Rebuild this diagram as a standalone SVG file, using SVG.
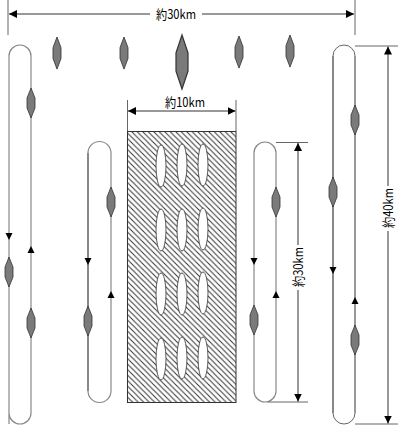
<svg xmlns="http://www.w3.org/2000/svg" width="400" height="431" viewBox="0 0 400 431">
<style>
.dim{stroke:#333;stroke-width:1;fill:none}
.tick{stroke:#666;stroke-width:1;fill:none}
.g{stroke:#888;stroke-width:1.2;fill:none}
.k{stroke:#111;stroke-width:1;fill:none}
.ship{fill:#7a7a7a;stroke:#333;stroke-width:0.8}
.lbl{font-family:"Noto Sans CJK JP","DejaVu Sans",sans-serif;font-size:13px;fill:#000}
.ell{fill:#fff;stroke:#333;stroke-width:0.8}
.arr{fill:#000}
</style>
<defs>
<marker id="ah" viewBox="0 0 10 10" refX="10" refY="5" markerWidth="8" markerHeight="8" markerUnits="userSpaceOnUse" orient="auto">
<path d="M0,0 L10,5 L0,10 Z" fill="#000"/>
</marker>
<pattern id="hatch" patternUnits="userSpaceOnUse" width="5.5" height="5.5">
<path d="M-1,-1 L6.5,6.5 M-1,4.5 L1,6.5 M4.5,-1 L6.5,1" stroke="#333" stroke-width="1"/>
</pattern>
<path id="ship" d="M0,0 L4,10 L4,20 L0,30 L-4,20 L-4,10 Z"/>
<path id="dn" d="M-3.5,0 L3.5,0 L0,7 Z"/>
<path id="up" d="M-3.5,7 L3.5,7 L0,0 Z"/>
</defs>

<g id="dim-top">
<line class="tick" x1="8" y1="0" x2="8" y2="35"/>
<line class="tick" x1="355" y1="0" x2="355" y2="35"/>
<line class="dim" x1="150" y1="14" x2="9" y2="14" marker-end="url(#ah)"/>
<line class="dim" x1="202" y1="14" x2="354" y2="14" marker-end="url(#ah)"/>
<text class="lbl" x="176" y="19" text-anchor="middle" textLength="40" lengthAdjust="spacingAndGlyphs">約30km</text>
</g>

<g id="top-ships">
<use href="#ship" class="ship" transform="translate(57,37) scale(1,1.07)"/>
<use href="#ship" class="ship" transform="translate(124,37) scale(1,1.07)"/>
<use href="#ship" class="ship" transform="translate(182,35) scale(1.5,1.8)"/>
<use href="#ship" class="ship" transform="translate(239,36) scale(1,1.07)"/>
<use href="#ship" class="ship" transform="translate(290,35) scale(1,1.07)"/>
</g>

<g id="loop-left">
<path class="g" d="M9,424 L9,56 A11,11 0 0 1 31,56 L31,413 A11,11 0 0 1 9,413"/>
<use href="#dn" class="arr" x="9" y="233"/>
<use href="#up" class="arr" x="31" y="246"/>
<use href="#ship" class="ship" x="31" y="88"/>
<use href="#ship" class="ship" x="9" y="257"/>
<use href="#ship" class="ship" x="31" y="308"/>
</g>

<g id="loop-midleft">
<path class="g" d="M88,153 A11.5,11.5 0 0 1 111,153 L111,391 A11.5,11.5 0 0 1 88,391"/>
<line class="k" x1="88" y1="153" x2="88" y2="391"/>
<use href="#dn" class="arr" x="88" y="258"/>
<use href="#up" class="arr" x="111" y="291"/>
<use href="#ship" class="ship" x="111" y="187"/>
<use href="#ship" class="ship" x="88" y="306"/>
</g>

<g id="area">
<rect x="127.5" y="131.5" width="108.5" height="271" fill="url(#hatch)" stroke="#333" stroke-width="1"/>
<ellipse class="ell" cx="161" cy="166" rx="5" ry="21"/>
<ellipse class="ell" cx="182" cy="165" rx="5" ry="21"/>
<ellipse class="ell" cx="203" cy="165" rx="5" ry="21"/>
<ellipse class="ell" cx="161" cy="230" rx="5" ry="21"/>
<ellipse class="ell" cx="182" cy="230" rx="5" ry="21"/>
<ellipse class="ell" cx="203" cy="229" rx="5" ry="21"/>
<ellipse class="ell" cx="161" cy="294" rx="5" ry="21"/>
<ellipse class="ell" cx="182" cy="294" rx="5" ry="21"/>
<ellipse class="ell" cx="203" cy="293" rx="5" ry="21"/>
<ellipse class="ell" cx="161" cy="359" rx="5" ry="21"/>
<ellipse class="ell" cx="182" cy="358" rx="5" ry="21"/>
<ellipse class="ell" cx="203" cy="358" rx="5" ry="21"/>
</g>

<g id="dim-10km">
<line class="tick" x1="127.5" y1="100" x2="127.5" y2="131"/>
<line class="tick" x1="236" y1="100" x2="236" y2="131"/>
<line class="dim" x1="182" y1="111" x2="128" y2="111" marker-end="url(#ah)"/>
<line class="dim" x1="182" y1="111" x2="235.5" y2="111" marker-end="url(#ah)"/>
<text class="lbl" x="185" y="107" text-anchor="middle" textLength="40" lengthAdjust="spacingAndGlyphs">約10km</text>
</g>

<g id="loop-midright">
<path class="g" d="M254,391 L254,153 A11,11 0 0 1 276,153 L276,391 A11,11 0 0 1 254,391"/>
<use href="#dn" class="arr" x="254" y="258"/>
<use href="#up" class="arr" x="276" y="291"/>
<use href="#ship" class="ship" x="276" y="187"/>
<use href="#ship" class="ship" x="254" y="305"/>
</g>

<g id="dim-30km">
<line class="tick" x1="276" y1="142.5" x2="308" y2="142.5"/>
<line class="tick" x1="268" y1="402" x2="308" y2="402"/>
<line class="dim" x1="298" y1="245" x2="298" y2="143" marker-end="url(#ah)"/>
<line class="dim" x1="298" y1="290" x2="298" y2="401.5" marker-end="url(#ah)"/>
<text class="lbl" transform="translate(303,267) rotate(-90)" text-anchor="middle" textLength="40" lengthAdjust="spacingAndGlyphs">約30km</text>
</g>

<g id="loop-right">
<path stroke="#666" stroke-width="1" fill="none" d="M333,56 A11,11 0 0 1 355,56 M355,413 A11,11 0 0 1 333,413"/>
<line x1="333" y1="56" x2="333" y2="413" stroke="#111" stroke-width="1"/>
<line x1="355" y1="56" x2="355" y2="413" stroke="#333" stroke-width="1"/>
<use href="#dn" class="arr" x="333" y="267"/>
<use href="#up" class="arr" x="355" y="297"/>
<use href="#ship" class="ship" x="355" y="105"/>
<use href="#ship" class="ship" x="333" y="177"/>
<use href="#ship" class="ship" x="355" y="325"/>
</g>

<g id="dim-40km">
<line class="tick" x1="355" y1="46" x2="398" y2="46"/>
<line class="tick" x1="355" y1="424" x2="398" y2="424"/>
<line class="dim" x1="388" y1="186" x2="388" y2="46.5" marker-end="url(#ah)"/>
<line class="dim" x1="388" y1="231" x2="388" y2="423.5" marker-end="url(#ah)"/>
<text class="lbl" transform="translate(393,208) rotate(-90)" text-anchor="middle" textLength="40" lengthAdjust="spacingAndGlyphs">約40km</text>
</g>
</svg>
